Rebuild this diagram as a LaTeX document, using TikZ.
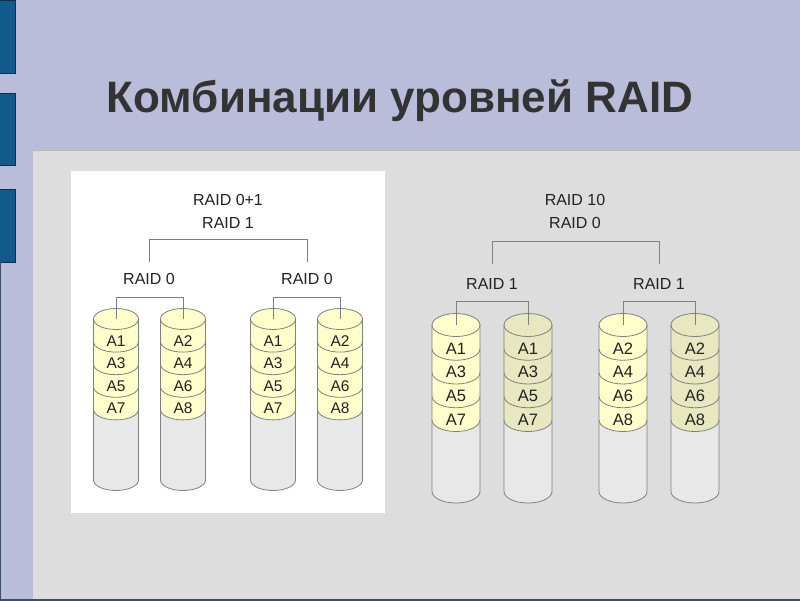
\documentclass[tikz,border=0pt]{standalone}
\usepackage{fontspec}
\setmainfont{Liberation Sans}
\usetikzlibrary{positioning, calc}
\definecolor{slideBg}{HTML}{B9BDD9}
\definecolor{barBlue}{HTML}{135A8C}
\definecolor{barEdge}{HTML}{0B2F4D}
\definecolor{panelGray}{HTML}{DDDDDD}
\definecolor{titleDark}{HTML}{333333}
\definecolor{textDark}{HTML}{222222}
\definecolor{diskYellow}{HTML}{FFFFCC}
\definecolor{diskKhaki}{HTML}{E8E8C0}
\definecolor{diskGray}{HTML}{E8E8E8}
\definecolor{diskLine}{HTML}{808080}

% one disk: name, x, band fill, labels
\newcommand{\raiddisk}[4]{%
  \coordinate (#1) at (#2,-\dtop);
  \fill[diskGray] (#2+\drx,-\dtop-4*\dh)
    arc[start angle=0, end angle=-180, x radius=\drx, y radius=\dry]
    -- (#2-\drx,-\dbot)
    arc[start angle=180, end angle=360, x radius=\drx, y radius=\dry] -- cycle;
  \fill[#3] (#2-\drx,-\dtop)
    arc[start angle=180, end angle=0, x radius=\drx, y radius=\dry]
    -- (#2+\drx,-\dtop-4*\dh)
    arc[start angle=0, end angle=-180, x radius=\drx, y radius=\dry] -- cycle;
  \draw[diskedge] (#2,-\dtop) ellipse[x radius=\drx, y radius=\dry];
  \foreach \k in {1,...,4}
    \draw[diskedge] (#2+\drx,-\dtop-\k*\dh)
      arc[start angle=0, end angle=-180, x radius=\drx, y radius=\dry];
  \draw[diskedge] (#2-\drx,-\dtop) -- (#2-\drx,-\dbot)
    arc[start angle=180, end angle=360, x radius=\drx, y radius=\dry]
    -- (#2+\drx,-\dtop);
  \foreach \t [count=\k] in {#4}
    \node[bandlbl] (#1-\k) at (#2,-\dtop-\k*\dh+0.5*\dh-\dry) {\t};
}

\begin{document}
\begin{tikzpicture}[x=1pt, y=1pt,
    diskedge/.style={draw=diskLine, line width=0.8pt},
    link/.style={draw=diskLine, line width=0.8pt},
    raidlbl/.style={inner sep=0pt, text=textDark,
                    font=\fontsize{16}{18}\selectfont},
    bandlbl/.style={inner sep=0pt, text=textDark,
                    font=\fontsize{15.5}{17}\selectfont},
  ]
  % slide
  \fill[slideBg] (0,0) rectangle (800,-600);
  \useasboundingbox (0,0) rectangle (800,-600);
  \foreach \ya/\yb in {0/73, 93/165, 189/262}
    \filldraw[fill=barBlue, draw=barEdge, line width=1pt] (-1,-\ya) rectangle (15,-\yb);
  \draw[barEdge!60!gray, line width=1.5pt] (0,-262) -- (0,-600);
  \fill[panelGray] (33,-150) rectangle (800,-600);
  \draw[gray!40!panelGray, line width=1pt] (33,-150) -- (800,-150);
  \draw[barEdge!60!gray, line width=1.5pt] (0,-600) -- (800,-600);
  \fill[white] (71,-171) rectangle (385,-513);
  \node[text=titleDark, font=\fontsize{44}{48}\selectfont\bfseries, anchor=base]
    (title) at (400,-112) {Комбинации уровней RAID};

  % RAID 0+1
  \def\drx{22.5}\def\dry{10.5}\def\dh{22.6}\def\dtop{319}\def\dbot{480}
  \raiddisk{d1}{116}{diskYellow}{A1,A3,A5,A7}
  \raiddisk{d2}{183}{diskYellow}{A2,A4,A6,A8}
  \raiddisk{d3}{273}{diskYellow}{A1,A3,A5,A7}
  \raiddisk{d4}{340}{diskYellow}{A2,A4,A6,A8}
  \node[raidlbl] (l01) at (228,-200) {RAID 0+1};
  \node[raidlbl] (l1) at (228,-223) {RAID 1};
  \node[raidlbl] (l0a) at (149,-279) {RAID 0};
  \node[raidlbl] (l0b) at (307,-279) {RAID 0};
  \draw[link] ([yshift=11pt]l0a.north) -- ++(0,23) -| ([yshift=11pt]l0b.north);
  \draw[link] (d1) -- ++(0,22) -| (d2);
  \draw[link] (d3) -- ++(0,22) -| (d4);

  % RAID 10
  \def\drx{24}\def\dry{11.5}\def\dh{23.75}\def\dtop{325}\def\dbot{491.5}
  \tikzset{bandlbl/.append style={font=\fontsize{16.5}{18}\selectfont}}
  \raiddisk{m1}{456}{diskYellow}{A1,A3,A5,A7}
  \raiddisk{m2}{528}{diskKhaki}{A1,A3,A5,A7}
  \raiddisk{m3}{623}{diskYellow}{A2,A4,A6,A8}
  \raiddisk{m4}{695}{diskKhaki}{A2,A4,A6,A8}
  \node[raidlbl] (r10) at (575,-200) {RAID 10};
  \node[raidlbl] (r0) at (575,-223) {RAID 0};
  \node[raidlbl] (r1a) at (492,-284) {RAID 1};
  \node[raidlbl] (r1b) at (659,-284) {RAID 1};
  \draw[link] ([yshift=14pt]r1a.north) -- ++(0,23) -| ([yshift=14pt]r1b.north);
  \draw[link] (m1) -- ++(0,24) -| (m2);
  \draw[link] (m3) -- ++(0,24) -| (m4);
\end{tikzpicture}
\end{document}
